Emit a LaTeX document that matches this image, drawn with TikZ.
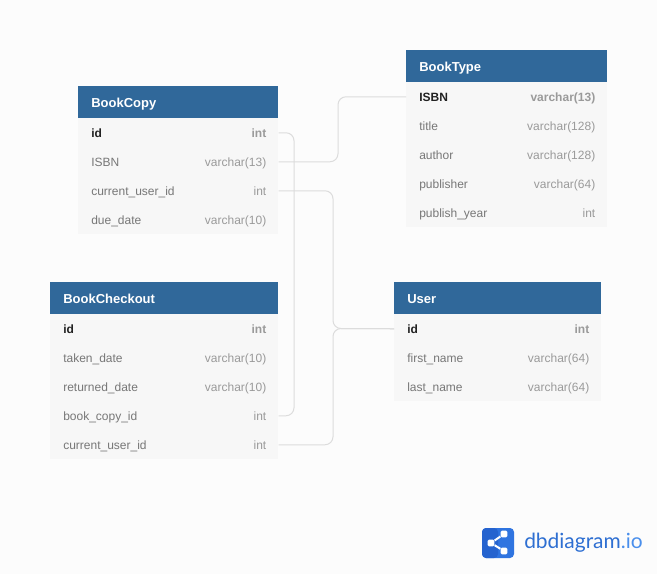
\documentclass[tikz,border=0pt]{standalone}
\usepackage{fontspec}
\setmainfont{Liberation Sans}
\newfontfamily\logofont{Lato}
\usetikzlibrary{positioning}

\definecolor{pagebg}{HTML}{FCFCFC}
\definecolor{headblue}{HTML}{30689A}
\definecolor{rowgray}{HTML}{F7F7F7}
\definecolor{fieldgray}{HTML}{777777}
\definecolor{kindgray}{HTML}{9A9A9A}
\definecolor{keydark}{HTML}{222222}
\definecolor{linkgray}{HTML}{DCDCDC}
\definecolor{logoblue}{HTML}{2F74E0}
\definecolor{logodark}{HTML}{2563CF}
\definecolor{logotext}{HTML}{2E6FD2}
\definecolor{logolight}{HTML}{4A8FEC}

\newcommand{\kindtext}[1]{\textcolor{kindgray}{#1}\kern-0.75pt}

\begin{document}
\begin{tikzpicture}[
    x=0.75pt, y=-0.75pt,
    header/.style={rectangle, fill=headblue, text=white, font=\fontsize{9.75}{11}\selectfont\bfseries, anchor=north west, inner xsep=9.75pt, inner ysep=0pt, minimum height=24pt, text height=9.2pt, text depth=1pt, align=left},
    rowbox/.style={rectangle, fill=rowgray, text=fieldgray, font=\fontsize{9}{11}\selectfont, anchor=north west, inner xsep=9.75pt, inner ysep=0pt, minimum height=21.75pt, text height=9pt, text depth=1.2pt, align=left},
    keyrow/.style={rowbox, font=\fontsize{9}{11}\selectfont\bfseries, text=keydark},
    link/.style={draw=linkgray, line width=0.75pt, rounded corners=6pt},
    icondot/.style={rectangle, rounded corners=1pt, fill=white, minimum size=5pt, inner sep=0pt}
]

\useasboundingbox[fill=pagebg] (0,0) rectangle (657,574);

% BookCopy
\node[header, text width=130.5pt] (bookcopy) at (78,86) {BookCopy};
\node[keyrow, text width=130.5pt] (bookcopy-id) at (78,118) {id\hfill\kindtext{int}};
\foreach \n/\key/\field/\kind in {1/isbn/ISBN/varchar(13), 2/user/current\_user\_id/int, 3/due/due\_date/varchar(10)}
    \node[rowbox, text width=130.5pt] (bookcopy-\key) at (78,{118+29*\n}) {\field\hfill\kindtext{\kind}};

% BookType
\node[header, text width=131.25pt] (booktype) at (406,50) {BookType};
\node[keyrow, text width=131.25pt] (booktype-isbn) at (406,82) {ISBN\hfill\kindtext{varchar(13)}};
\foreach \n/\key/\field/\kind in {1/title/title/varchar(128), 2/author/author/varchar(128), 3/publisher/publisher/varchar(64), 4/year/publish\_year/int}
    \node[rowbox, text width=131.25pt] (booktype-\key) at (406,{82+29*\n}) {\field\hfill\kindtext{\kind}};

% BookCheckout
\node[header, text width=151.5pt] (checkout) at (50,282) {BookCheckout};
\node[keyrow, text width=151.5pt] (checkout-id) at (50,314) {id\hfill\kindtext{int}};
\foreach \n/\key/\field/\kind in {1/taken/taken\_date/varchar(10), 2/returned/returned\_date/varchar(10), 3/copy/book\_copy\_id/int, 4/user/current\_user\_id/int}
    \node[rowbox, text width=151.5pt] (checkout-\key) at (50,{314+29*\n}) {\field\hfill\kindtext{\kind}};

% User
\node[header, text width=135.75pt] (user) at (394,282) {User};
\node[keyrow, text width=135.75pt] (user-id) at (394,314) {id\hfill\kindtext{int}};
\foreach \n/\key/\field/\kind in {1/first/first\_name/varchar(64), 2/last/last\_name/varchar(64)}
    \node[rowbox, text width=135.75pt] (user-\key) at (394,{314+29*\n}) {\field\hfill\kindtext{\kind}};

% Connectors
\coordinate (copybend) at (294,300);
\coordinate (isbnbend) at (338,130);
\coordinate (userbend) at (333,328.5);
\draw[link] (bookcopy-id.east) -| (copybend) |- (checkout-copy.east);
\draw[link] (bookcopy-isbn.east) -| (isbnbend) |- (booktype-isbn.west);
\draw[link] (bookcopy-user.east) -| (userbend) -- (user-id.west);
\draw[link] (checkout-user.east) -| (userbend) -- (user-id.west);

% Logo
\fill[logoblue, rounded corners=3pt] (482,528) rectangle (514,558);
\fill[logodark, rounded corners=3pt] (482,528) rectangle (498,558);
\node[icondot] (logo-a) at (491,543) {};
\node[icondot] (logo-b) at (504,534) {};
\node[icondot] (logo-c) at (504,551) {};
\draw[white, line width=1.5pt] (logo-b) -- (logo-a) -- (logo-c);
\node[anchor=west, inner sep=0pt, font=\fontsize{15.7}{18}\logofont] (logotitle) at (524,543) {\textcolor{logotext}{dbdiagram}\textcolor{logolight}{.io}};

\end{tikzpicture}
\end{document}
